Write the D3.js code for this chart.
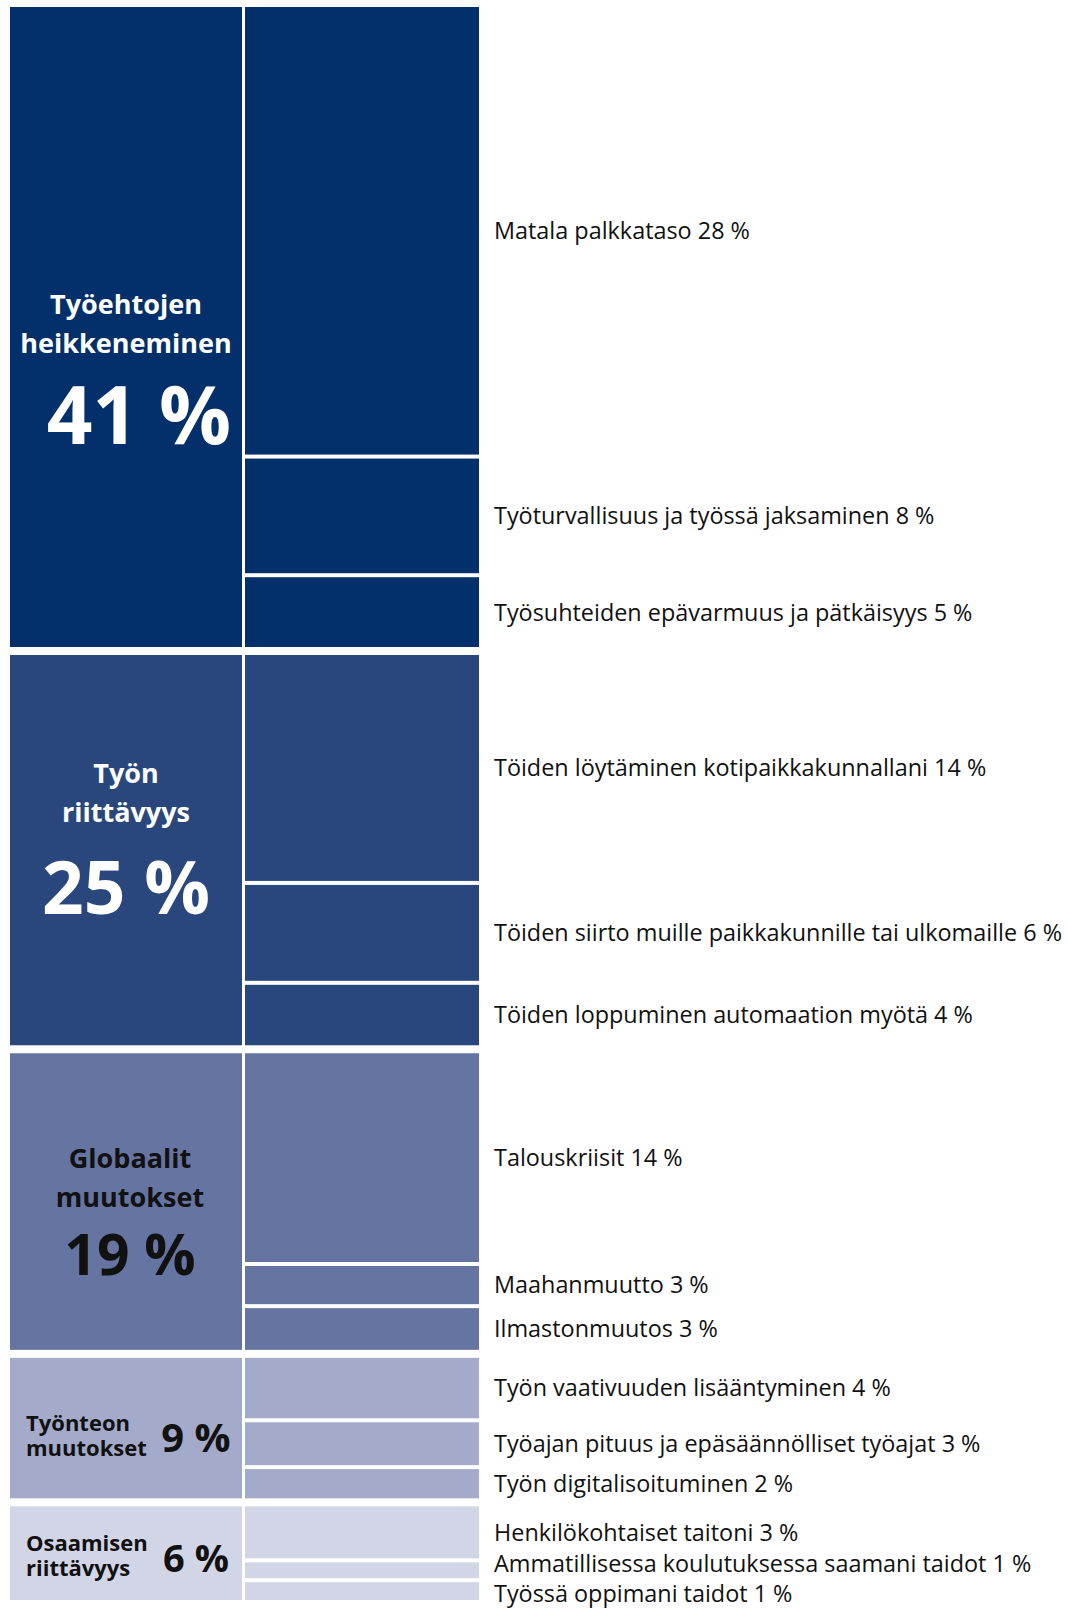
<!DOCTYPE html>
<html>
<head>
<meta charset="utf-8">
<script src="https://cdn.jsdelivr.net/npm/d3@7"></script>
<style>
  html, body { margin: 0; padding: 0; background: #ffffff; }
  svg { display: block; }
  text { font-family: "Open Sans", "Noto Sans", sans-serif; }
</style>
</head>
<body>
<div id="chart"></div>
<script>
// ---- DATA ----
const groupNames = [
  ["Työehtojen", "heikkeneminen"],
  ["Työn", "riittävyys"],
  ["Globaalit", "muutokset"],
  ["Työnteon", "muutokset"],
  ["Osaamisen", "riittävyys"]
];
const groupValues = [41, 25, 19, 9, 6];

const subNames = [
  ["Matala palkkataso", "Työturvallisuus ja työssä jaksaminen", "Työsuhteiden epävarmuus ja pätkäisyys"],
  ["Töiden löytäminen kotipaikkakunnallani", "Töiden siirto muille paikkakunnille tai ulkomaille", "Töiden loppuminen automaation myötä"],
  ["Talouskriisit", "Maahanmuutto", "Ilmastonmuutos"],
  ["Työn vaativuuden lisääntyminen", "Työajan pituus ja epäsäännölliset työajat", "Työn digitalisoituminen"],
  ["Henkilökohtaiset taitoni", "Ammatillisessa koulutuksessa saamani taidot", "Työssä oppimani taidot"]
];
// percentages printed in the labels
const subLabelValues = [
  [28, 8, 5],
  [14, 6, 4],
  [14, 3, 3],
  [4, 3, 2],
  [3, 1, 1]
];
// shares as drawn (read from the rectangle heights)
const subShares = [
  [28.8, 7.6, 4.6],
  [14.6, 6.4, 4.0],
  [13.5, 2.7, 2.8],
  [4.0, 3.0, 2.0],
  [3.46, 1.27, 1.27]
];

// ---- STYLE ----
const colors = ["#032f6b", "#29477c", "#6674a1", "#a4aac9", "#d2d5e6"];
const nameColors = ["#ffffff", "#ffffff", "#111111", "#111111", "#111111"];
const bigNumberSize = [80, 73, 57, 40, 38];
const numberGap = [91, 92, 68];        // baseline distance name line 2 -> big number
const groupLabelShift = [42, -11, 10, 5, 0];
const numberDx = [13, 0, 4];
const nameDx = [0, 0, 4];
const subFont = 23.4, subMinSpacing = 30;

const W = 1068, Hpx = 1609;
const yTop = 7, yBottom = 1600, groupGap = 8, subGap = 4;
const leftX0 = 10, leftX1 = 242, rightX0 = 245, rightX1 = 479, labelX = 494;

const svg = d3.select("#chart").append("svg")
  .attr("width", W).attr("height", Hpx);

const total = d3.sum(groupValues);
const y = d3.scaleLinear()
  .domain([0, total])
  .range([0, (yBottom - yTop) - groupGap * (groupValues.length - 1)]);

const cum = Array.from(d3.cumsum([0, ...groupValues]));
const groups = groupValues.map((v, i) => {
  const y0 = yTop + y(cum[i]) + i * groupGap;
  const y1 = y0 + y(v);
  return { i, v, y0, y1 };
});

const subLabels = [];

groups.forEach(g => {
  const G = svg.append("g");
  G.append("rect")
    .attr("x", leftX0).attr("y", g.y0)
    .attr("width", leftX1 - leftX0).attr("height", g.y1 - g.y0)
    .attr("fill", colors[g.i]);

  const shares = subShares[g.i];
  const sc = Array.from(d3.cumsum([0, ...shares]));
  const sy = d3.scaleLinear().domain([0, d3.sum(shares)]).range([g.y0, g.y1]);
  shares.forEach((s, j) => {
    const a = sy(sc[j]) + (j > 0 ? subGap / 2 : 0);
    const b = sy(sc[j + 1]) - (j < shares.length - 1 ? subGap / 2 : 0);
    G.append("rect")
      .attr("x", rightX0).attr("y", a)
      .attr("width", rightX1 - rightX0).attr("height", b - a)
      .attr("fill", colors[g.i]);
    subLabels.push({ y: (a + b) / 2, text: `${subNames[g.i][j]} ${subLabelValues[g.i][j]} %` });
  });

  const c = (g.y0 + g.y1) / 2 + groupLabelShift[g.i];
  const num = `${g.v} %`;
  if (g.i < 3) {
    const cx = (leftX0 + leftX1) / 2;
    const nameSize = 27, lineH = 39;
    const nb = numberGap[g.i];
    const cap = nameSize * 0.72;
    const blockH = cap + lineH + nb;
    const b0 = c - blockH / 2 + cap;
    const t = G.append("text")
      .attr("x", cx + nameDx[g.i]).attr("y", b0)
      .attr("text-anchor", "middle")
      .attr("font-size", nameSize).attr("font-weight", 700)
      .attr("fill", nameColors[g.i]);
    groupNames[g.i].forEach((s, k) => {
      t.append("tspan")
        .attr("x", cx + nameDx[g.i]).attr("y", b0 + k * lineH)
        .text(s);
    });
    G.append("text")
      .attr("x", cx + numberDx[g.i]).attr("y", b0 + lineH + nb)
      .attr("text-anchor", "middle")
      .attr("font-size", bigNumberSize[g.i]).attr("font-weight", 700)
      .attr("fill", nameColors[g.i])
      .text(num);
  } else {
    const t = G.append("text")
      .attr("x", 26).attr("y", c - 2)
      .attr("font-size", 22).attr("font-weight", 700)
      .attr("fill", nameColors[g.i]);
    groupNames[g.i].forEach((s, k) => {
      t.append("tspan")
        .attr("x", 26).attr("y", c - 2 + k * 25)
        .text(s);
    });
    G.append("text")
      .attr("x", 196).attr("y", c + 19)
      .attr("text-anchor", "middle")
      .attr("font-size", bigNumberSize[g.i]).attr("font-weight", 700)
      .attr("fill", nameColors[g.i])
      .text(num);
  }
});

// simple relaxation so that sub labels do not collide and stay on the page
const maxLabelY = Hpx - subFont * 0.68;
for (let it = 0; it < 100; it++) {
  let moved = false;
  for (let k = 1; k < subLabels.length; k++) {
    const d = subLabels[k].y - subLabels[k - 1].y;
    if (d < subMinSpacing - 0.01) {
      const push = (subMinSpacing - d) / 2;
      subLabels[k - 1].y -= push;
      subLabels[k].y += push;
      moved = true;
    }
  }
  const last = subLabels[subLabels.length - 1];
  if (last.y > maxLabelY) { last.y = maxLabelY; moved = true; }
  if (!moved) break;
}

svg.append("g").selectAll("text")
  .data(subLabels)
  .join("text")
  .attr("x", labelX)
  .attr("y", d => d.y)
  .attr("dy", "0.36em")
  .attr("font-size", subFont)
  .attr("fill", "#111111")
  .text(d => d.text);
</script>
</body>
</html>
